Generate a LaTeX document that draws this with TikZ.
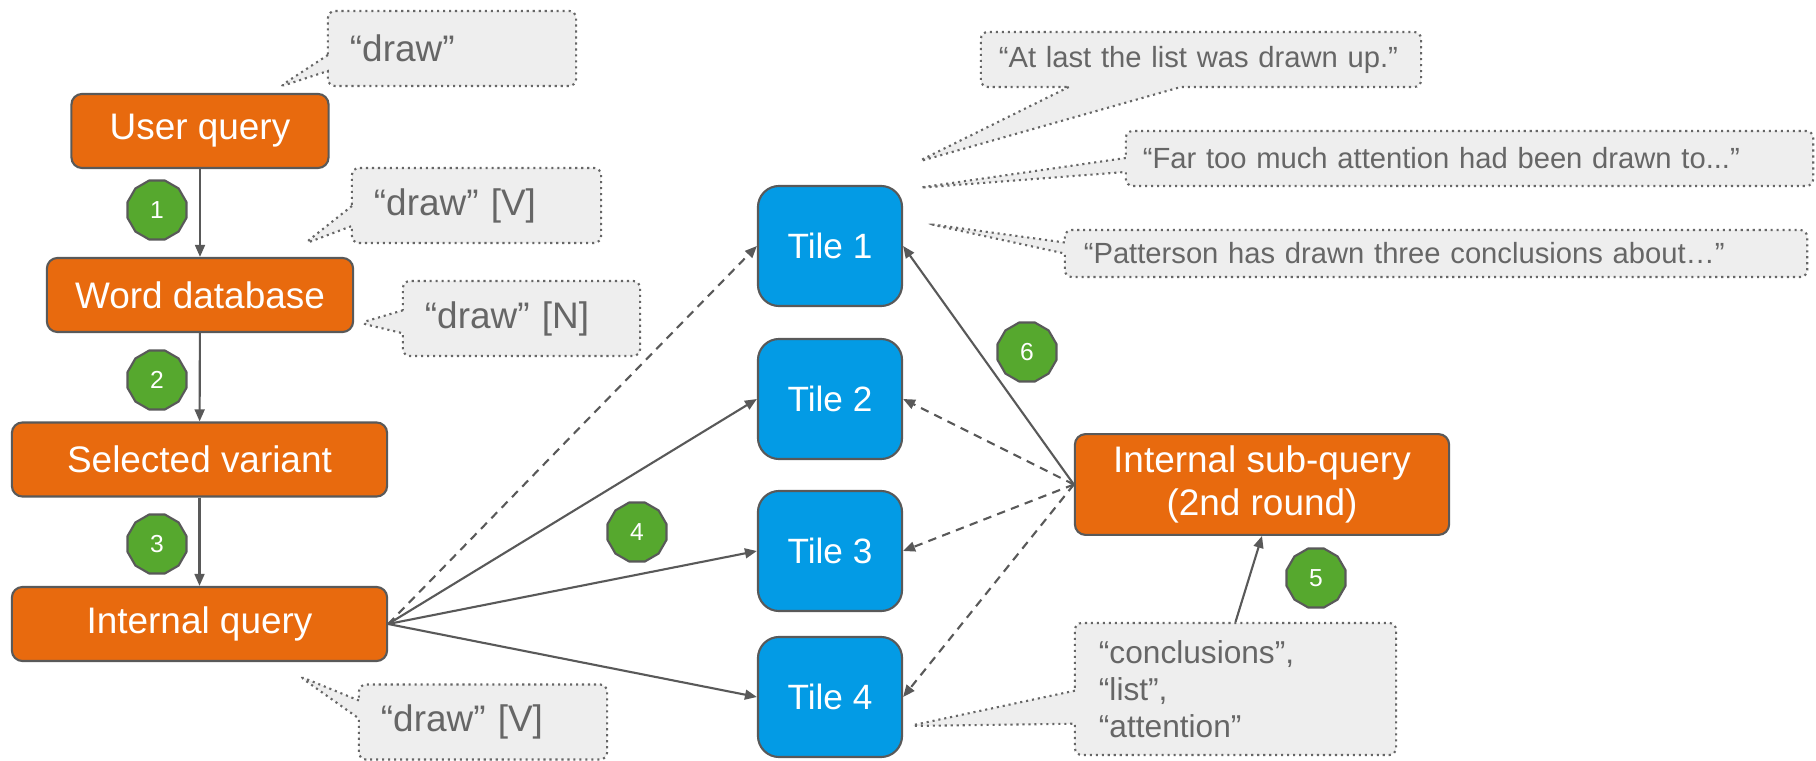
\documentclass[tikz,border=0pt]{standalone}
\usepackage{fontspec}
\setmainfont{Liberation Sans}
\usetikzlibrary{arrows.meta,shapes.geometric,shapes.callouts}

\definecolor{qorange}{RGB}{232,106,14}
\definecolor{tileblue}{RGB}{3,155,229}
\definecolor{stepgreen}{RGB}{86,168,46}
\definecolor{edgegray}{RGB}{89,89,89}
\definecolor{notefill}{RGB}{238,238,238}
\definecolor{notegray}{RGB}{102,102,102}

\begin{document}
\begin{tikzpicture}[x=0.01cm,y=-0.01cm,
  query/.style={draw=edgegray,line width=0.6pt,fill=qorange,text=white,rounded corners=3pt,
    minimum height=0.74cm,align=center,font=\fontsize{10.5}{12.2}\selectfont},
  tile/.style={draw=edgegray,line width=0.6pt,fill=tileblue,text=white,rounded corners=6pt,
    minimum width=1.44cm,minimum height=1.2cm,font=\fontsize{10}{12}\selectfont},
  badge/.style={regular polygon,regular polygon sides=12,draw=edgegray,line width=0.6pt,
    fill=stepgreen,text=white,minimum size=0.61cm,inner sep=0pt,font=\fontsize{7}{8}\selectfont},
  note/.style={rectangle callout,draw=notegray,dash pattern=on 0.6pt off 1.1pt,line width=0.6pt,
    fill=notefill,text=notegray,rounded corners=2pt,align=left,inner xsep=0.22cm,
    minimum height=0.75cm,font=\fontsize{10.5}{12}\selectfont},
  link/.style={draw=edgegray,line width=0.6pt,-{Triangle[length=3.4pt,width=2.8pt]}},
  weak/.style={dash pattern=on 2.4pt off 1.8pt},
]
\useasboundingbox (0,0) rectangle (1816,761);

% main chain
\node[query,minimum width=2.57cm] (uq) at (200,131) {User query};
\node[query,minimum width=3.06cm] (wdb) at (200,295) {Word database};
\node[query,minimum width=3.75cm] (sv) at (199.5,459.5) {Selected variant};
\node[query,minimum width=3.75cm] (iq) at (199.5,624) {Internal query};
\node[query,minimum width=3.74cm,minimum height=0.97cm] (sub) at (1262,484.5) {Internal sub-query\\(2nd round)};

\foreach \i/\y in {1/246,2/399,3/551,4/697}
  \node[tile] (tile\i) at (830,\y) {Tile \i};

% step numbers
\foreach \n/\p in {1/{157,210},2/{157,380},3/{157,544},4/{637,532},5/{1316,578},6/{1027,352}}
  \node[badge] (b\n) at (\p) {\n};

\draw[link] (uq) -- (wdb);
\draw[link] (wdb) -- (sv);
\draw[link] (sv) -- (iq);
\draw[link,weak] (iq.east) -- (tile1.west);
\foreach \i in {2,3,4}
  \draw[link] (iq.east) -- (tile\i.west);
\draw[link] (sub.west) -- (tile1.east);
\foreach \i in {2,3,4}
  \draw[link,weak] (sub.west) -- (tile\i.east);

% callouts
\coordinate (t1) at (279,87);
\coordinate (t2) at (304,244);
\coordinate (t3) at (360,323);
\coordinate (t4) at (299,676);
\coordinate (t5) at (917,162);
\coordinate (t6) at (917,188);
\coordinate (t7) at (929,224);
\coordinate (t8) at (909,726);

\node[note,text width=2.04cm,callout absolute pointer={(t1)},callout pointer width=0.16cm] (c1) at (452,48.5) {“draw”};
\node[note,text width=2.05cm,callout absolute pointer={(t2)},callout pointer width=0.2cm] (c2) at (476.5,205.5) {“draw” [V]};
\node[note,text width=1.93cm,callout absolute pointer={(t3)},callout pointer width=0.23cm] (c3) at (521.5,318.5) {“draw” [N]};
\node[note,text width=2.04cm,callout absolute pointer={(t4)},callout pointer width=0.18cm] (c4) at (483,722) {“draw” [V]};
\node[note,inner xsep=0.18cm,text width=4.04cm,minimum height=0.55cm,font=\fontsize{8.3}{10}\selectfont,
  callout absolute pointer={(t5)},callout pointer width=1.12cm] (c5) at (1201,59.5) {“At last the list was drawn up.”};
\node[note,inner xsep=0.17cm,text width=6.53cm,minimum height=0.55cm,font=\fontsize{8.3}{10}\selectfont,
  callout absolute pointer={(t6)},callout pointer width=0.14cm] (c6) at (1469.5,158.5) {“Far too much attention had been drawn to...”};
\node[note,inner xsep=0.19cm,text width=7.04cm,minimum height=0.47cm,font=\fontsize{8.3}{10}\selectfont,
  callout absolute pointer={(t7)},callout pointer width=0.11cm] (c7) at (1436,253.5) {“Patterson has drawn three conclusions about…”};
\node[note,inner xsep=0.24cm,text width=2.73cm,minimum height=1.32cm,font=\fontsize{9}{10.5}\selectfont,
  callout absolute pointer={(t8)},callout pointer width=0.33cm] (c8) at (1235.5,689) {“conclusions”,\\“list”,\\“attention”};

\draw[link] (c8.north) -- (sub.south);
\end{tikzpicture}
\end{document}
